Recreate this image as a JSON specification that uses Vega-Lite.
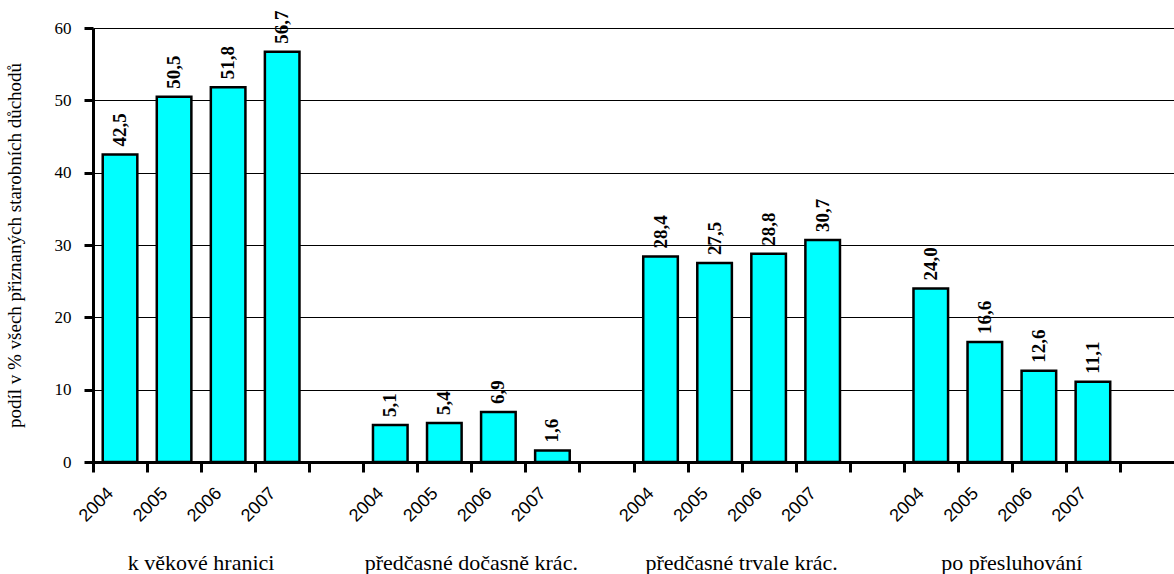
{
  "$schema": "https://vega.github.io/schema/vega-lite/v6.json",
  "width": 1081,
  "height": 434,
  "autosize": "none",
  "padding": {"left": 93, "top": 28, "right": 0, "bottom": 112},
  "background": "white",
  "config": {
    "view": {"stroke": null}
  },
  "data": {
    "values": [
      {"group": "k věkové hranici", "year": "2004", "value": 42.5},
      {"group": "k věkové hranici", "year": "2005", "value": 50.5},
      {"group": "k věkové hranici", "year": "2006", "value": 51.8},
      {"group": "k věkové hranici", "year": "2007", "value": 56.7},
      {"group": "předčasné dočasně krác.", "year": "2004", "value": 5.1},
      {"group": "předčasné dočasně krác.", "year": "2005", "value": 5.4},
      {"group": "předčasné dočasně krác.", "year": "2006", "value": 6.9},
      {"group": "předčasné dočasně krác.", "year": "2007", "value": 1.6},
      {"group": "předčasné trvale krác.", "year": "2004", "value": 28.4},
      {"group": "předčasné trvale krác.", "year": "2005", "value": 27.5},
      {"group": "předčasné trvale krác.", "year": "2006", "value": 28.8},
      {"group": "předčasné trvale krác.", "year": "2007", "value": 30.7},
      {"group": "po přesluhování", "year": "2004", "value": 24.0},
      {"group": "po přesluhování", "year": "2005", "value": 16.6},
      {"group": "po přesluhování", "year": "2006", "value": 12.6},
      {"group": "po přesluhování", "year": "2007", "value": 11.1}
    ]
  },
  "transform": [
    {"calculate": "datum.group + ' ' + datum.year", "as": "key"},
    {"calculate": "replace(format(datum.value, '.1f'), '.', ',')", "as": "label"}
  ],
  "encoding": {
    "y": {
      "field": "value", "type": "quantitative",
      "scale": {"domain": [0, 60], "nice": false},
      "axis": {
        "title": "podíl v % všech přiznaných starobních důchodů",
        "titleFont": "Liberation Serif", "titleFontSize": 19, "titleFontWeight": "normal", "titleColor": "black",
        "titlePadding": 30,
        "values": [0, 10, 20, 30, 40, 50, 60],
        "labelFont": "Liberation Serif", "labelFontSize": 17, "labelColor": "black", "labelPadding": 13,
        "tickSize": 9, "tickWidth": 3, "tickColor": "black",
        "domainColor": "black", "domainWidth": 3,
        "grid": true, "gridColor": "black", "gridWidth": 1, "gridOpacity": 1
      }
    }
  },
  "layer": [
    {
      "mark": {"type": "bar", "fill": "#00FFFF", "stroke": "black", "strokeWidth": 2.5},
      "encoding": {
        "x": {
          "field": "key", "type": "nominal",
          "scale": {
            "domain": ["k věkové hranici 2004", "k věkové hranici 2005", "k věkové hranici 2006", "k věkové hranici 2007", "mezera 1",
                       "předčasné dočasně krác. 2004", "předčasné dočasně krác. 2005", "předčasné dočasně krác. 2006", "předčasné dočasně krác. 2007", "mezera 2",
                       "předčasné trvale krác. 2004", "předčasné trvale krác. 2005", "předčasné trvale krác. 2006", "předčasné trvale krác. 2007", "mezera 3",
                       "po přesluhování 2004", "po přesluhování 2005", "po přesluhování 2006", "po přesluhování 2007", "mezera 4"],
            "paddingInner": 0.36, "paddingOuter": 0.18
          },
          "axis": {
            "orient": "bottom", "title": null,
            "labelExpr": "indexof(datum.value, 'mezera') == 0 ? '' : slice(datum.value, -4)",
            "labelAngle": -45, "labelFont": "Liberation Sans", "labelFontSize": 18, "labelColor": "black",
            "labelPadding": 12, "labelOffset": 11,
            "tickOffset": -27, "tickSize": 10, "tickWidth": 3, "tickColor": "black",
            "domainColor": "black", "domainWidth": 3, "grid": false, "zindex": 1
          }
        }
      }
    },
    {
      "data": {"values": [{}]},
      "mark": {"type": "rule", "color": "black", "strokeWidth": 2},
      "encoding": {"y": {"datum": 60}}
    },
    {
      "mark": {"type": "text", "angle": 270, "align": "left", "baseline": "middle", "dx": 8,
               "font": "Liberation Serif", "fontWeight": "bold", "fontSize": 19, "color": "black"},
      "encoding": {
        "x": {
          "field": "key", "type": "nominal",
          "scale": {
            "domain": ["k věkové hranici 2004", "k věkové hranici 2005", "k věkové hranici 2006", "k věkové hranici 2007", "mezera 1",
                       "předčasné dočasně krác. 2004", "předčasné dočasně krác. 2005", "předčasné dočasně krác. 2006", "předčasné dočasně krác. 2007", "mezera 2",
                       "předčasné trvale krác. 2004", "předčasné trvale krác. 2005", "předčasné trvale krác. 2006", "předčasné trvale krác. 2007", "mezera 3",
                       "po přesluhování 2004", "po přesluhování 2005", "po přesluhování 2006", "po přesluhování 2007", "mezera 4"],
            "paddingInner": 0.36, "paddingOuter": 0.18
          },
          "axis": {
            "orient": "bottom", "title": null,
            "labelExpr": "slice(datum.value, -4) == '2005' ? slice(datum.value, 0, -5) : ''",
            "labelAngle": 0, "labelFont": "Liberation Serif", "labelFontSize": 22, "labelColor": "black",
            "labelBaseline": "alphabetic", "labelAlign": "center", "labelPadding": 107, "labelOffset": 27,
            "labelLimit": 0,
            "ticks": false, "tickSize": 0, "domain": false, "grid": false
          }
        },
        "text": {"field": "label", "type": "nominal"}
      }
    }
  ],
  "resolve": {"axis": {"x": "independent"}}
}
